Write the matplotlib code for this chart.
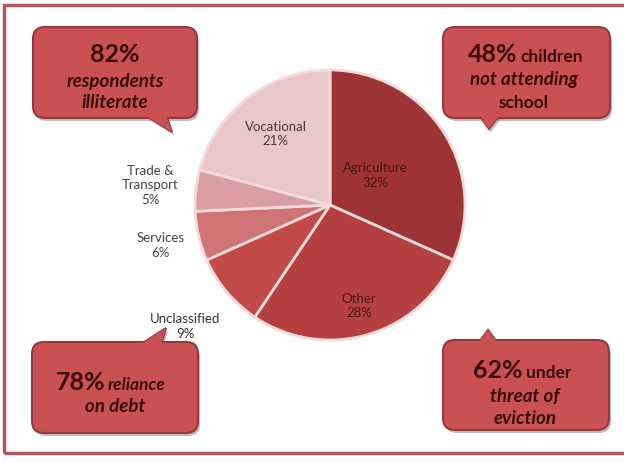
import matplotlib
matplotlib.use("Agg")
import matplotlib.pyplot as plt
import numpy as np
from matplotlib.patches import FancyBboxPatch, Polygon, Rectangle

# ---- data ----
categories = ["Agriculture", "Other", "Unclassified", "Services", "Trade &\nTransport", "Vocational"]
shares = [32, 28, 9, 6, 5, 21]
slice_colors = ["#9E3336", "#B4403F", "#C24A49", "#CE7476", "#DA9FA2", "#E9C7C9"]
label_colors = ["#4A1515", "#4A1515", "#333333", "#444444", "#444444", "#4A3A3A"]
label_dist = [0.40, 0.78, 1.40, 1.29, 1.34, 0.66]

callout_big = ["82%", "48%", "78%", "62%"]
callout_rest = [["respondents", "illiterate"],
                ["children", "not attending", "school"],
                ["reliance", "on debt"],
                ["under", "threat of", "eviction"]]

W, H = 624, 462
FONT = ["Lato", "Open Sans", "DejaVu Sans"]

fig = plt.figure(figsize=(W / 100, H / 100), dpi=100)
ax = fig.add_axes([0, 0, 1, 1])

def Y(y):
    return H - y

# frame
ax.add_patch(Rectangle((4, Y(453)), 640, 448, fill=False, edgecolor="#B0565F", linewidth=2.5, zorder=1))

# pie
cx, cy, R = 330, Y(205), 135
wedges, _ = ax.pie(shares, startangle=90, counterclock=False, center=(cx, cy), radius=R,
                   colors=slice_colors,
                   wedgeprops=dict(edgecolor="#F6D9D9", linewidth=2.0))
for w, name, val, d, col in zip(wedges, categories, shares, label_dist, label_colors):
    th = np.deg2rad((w.theta1 + w.theta2) / 2)
    x = cx + d * R * np.cos(th)
    y = cy + d * R * np.sin(th)
    ax.text(x, y, f"{name}\n{val}%", ha="center", va="center", fontsize=9.5,
            color=col, family=FONT, linespacing=1.25, zorder=5)

BOX = "#CA5151"
EDGE = "#94393E"
TXT = "#3A0808"
BIG = 18
SMALL = 13.5

def callout(x0, y0, x1, y1, tail):
    # shadow
    ax.add_patch(FancyBboxPatch((x0 + 2, Y(y1) - 3), x1 - x0, y1 - y0,
                                boxstyle="round,pad=0,rounding_size=12",
                                facecolor="#7A6A70", edgecolor="none", alpha=0.45, zorder=6))
    tail_pts = [(px, Y(py)) for px, py in tail]
    ax.add_patch(Polygon([(px + 2, py - 3) for px, py in tail_pts], closed=True,
                         facecolor="#7A6A70", edgecolor="none", alpha=0.45, zorder=6))
    ax.add_patch(Polygon(tail_pts, closed=True, facecolor=BOX, edgecolor=EDGE, linewidth=1.5, zorder=7))
    ax.add_patch(FancyBboxPatch((x0, Y(y1)), x1 - x0, y1 - y0,
                                boxstyle="round,pad=0,rounding_size=12",
                                facecolor=BOX, edgecolor=EDGE, linewidth=1.5, zorder=8))
    ax.add_patch(Polygon(tail_pts, closed=True, facecolor=BOX, edgecolor="none", zorder=9))

def t(x, y, s, size, ha="center", italic=False):
    ax.text(x, Y(y), s, ha=ha, va="center", fontsize=size, fontweight="bold",
            style="italic" if italic else "normal", color=TXT, family=FONT, zorder=10)

# top-left
callout(33, 27, 197, 118, [(140, 112), (165, 112), (172, 132)])
t(115, 54, callout_big[0], BIG)
t(115, 81, callout_rest[0][0], SMALL, italic=True)
t(115, 102, callout_rest[0][1], SMALL, italic=True)

# top-right
callout(443, 27, 610, 118, [(477, 112), (502, 112), (489, 129)])
t(517, 55, callout_big[1], BIG, ha="right")
t(520, 57, callout_rest[1][0], SMALL - 1, ha="left")
t(524, 80, callout_rest[1][1], SMALL, italic=True)
t(524, 103, callout_rest[1][2], SMALL - 1)

# bottom-left
callout(32, 342, 198, 433, [(135, 348), (160, 348), (166, 328)])
t(105, 383, callout_big[2], BIG, ha="right")
t(108, 385, callout_rest[2][0], SMALL - 1, ha="left", italic=True)
t(115, 407, callout_rest[2][1], SMALL, italic=True)

# bottom-right
callout(443, 340, 609, 430, [(476, 346), (500, 346), (488, 330)])
t(523, 371, callout_big[3], BIG, ha="right")
t(526, 373, callout_rest[3][0], SMALL - 1, ha="left")
t(525, 396, callout_rest[3][1], SMALL, italic=True)
t(525, 419, callout_rest[3][2], SMALL, italic=True)

ax.set_xlim(0, W)
ax.set_ylim(0, H)
ax.set_aspect("equal")
ax.axis("off")
fig.savefig("out.png", dpi=100)
